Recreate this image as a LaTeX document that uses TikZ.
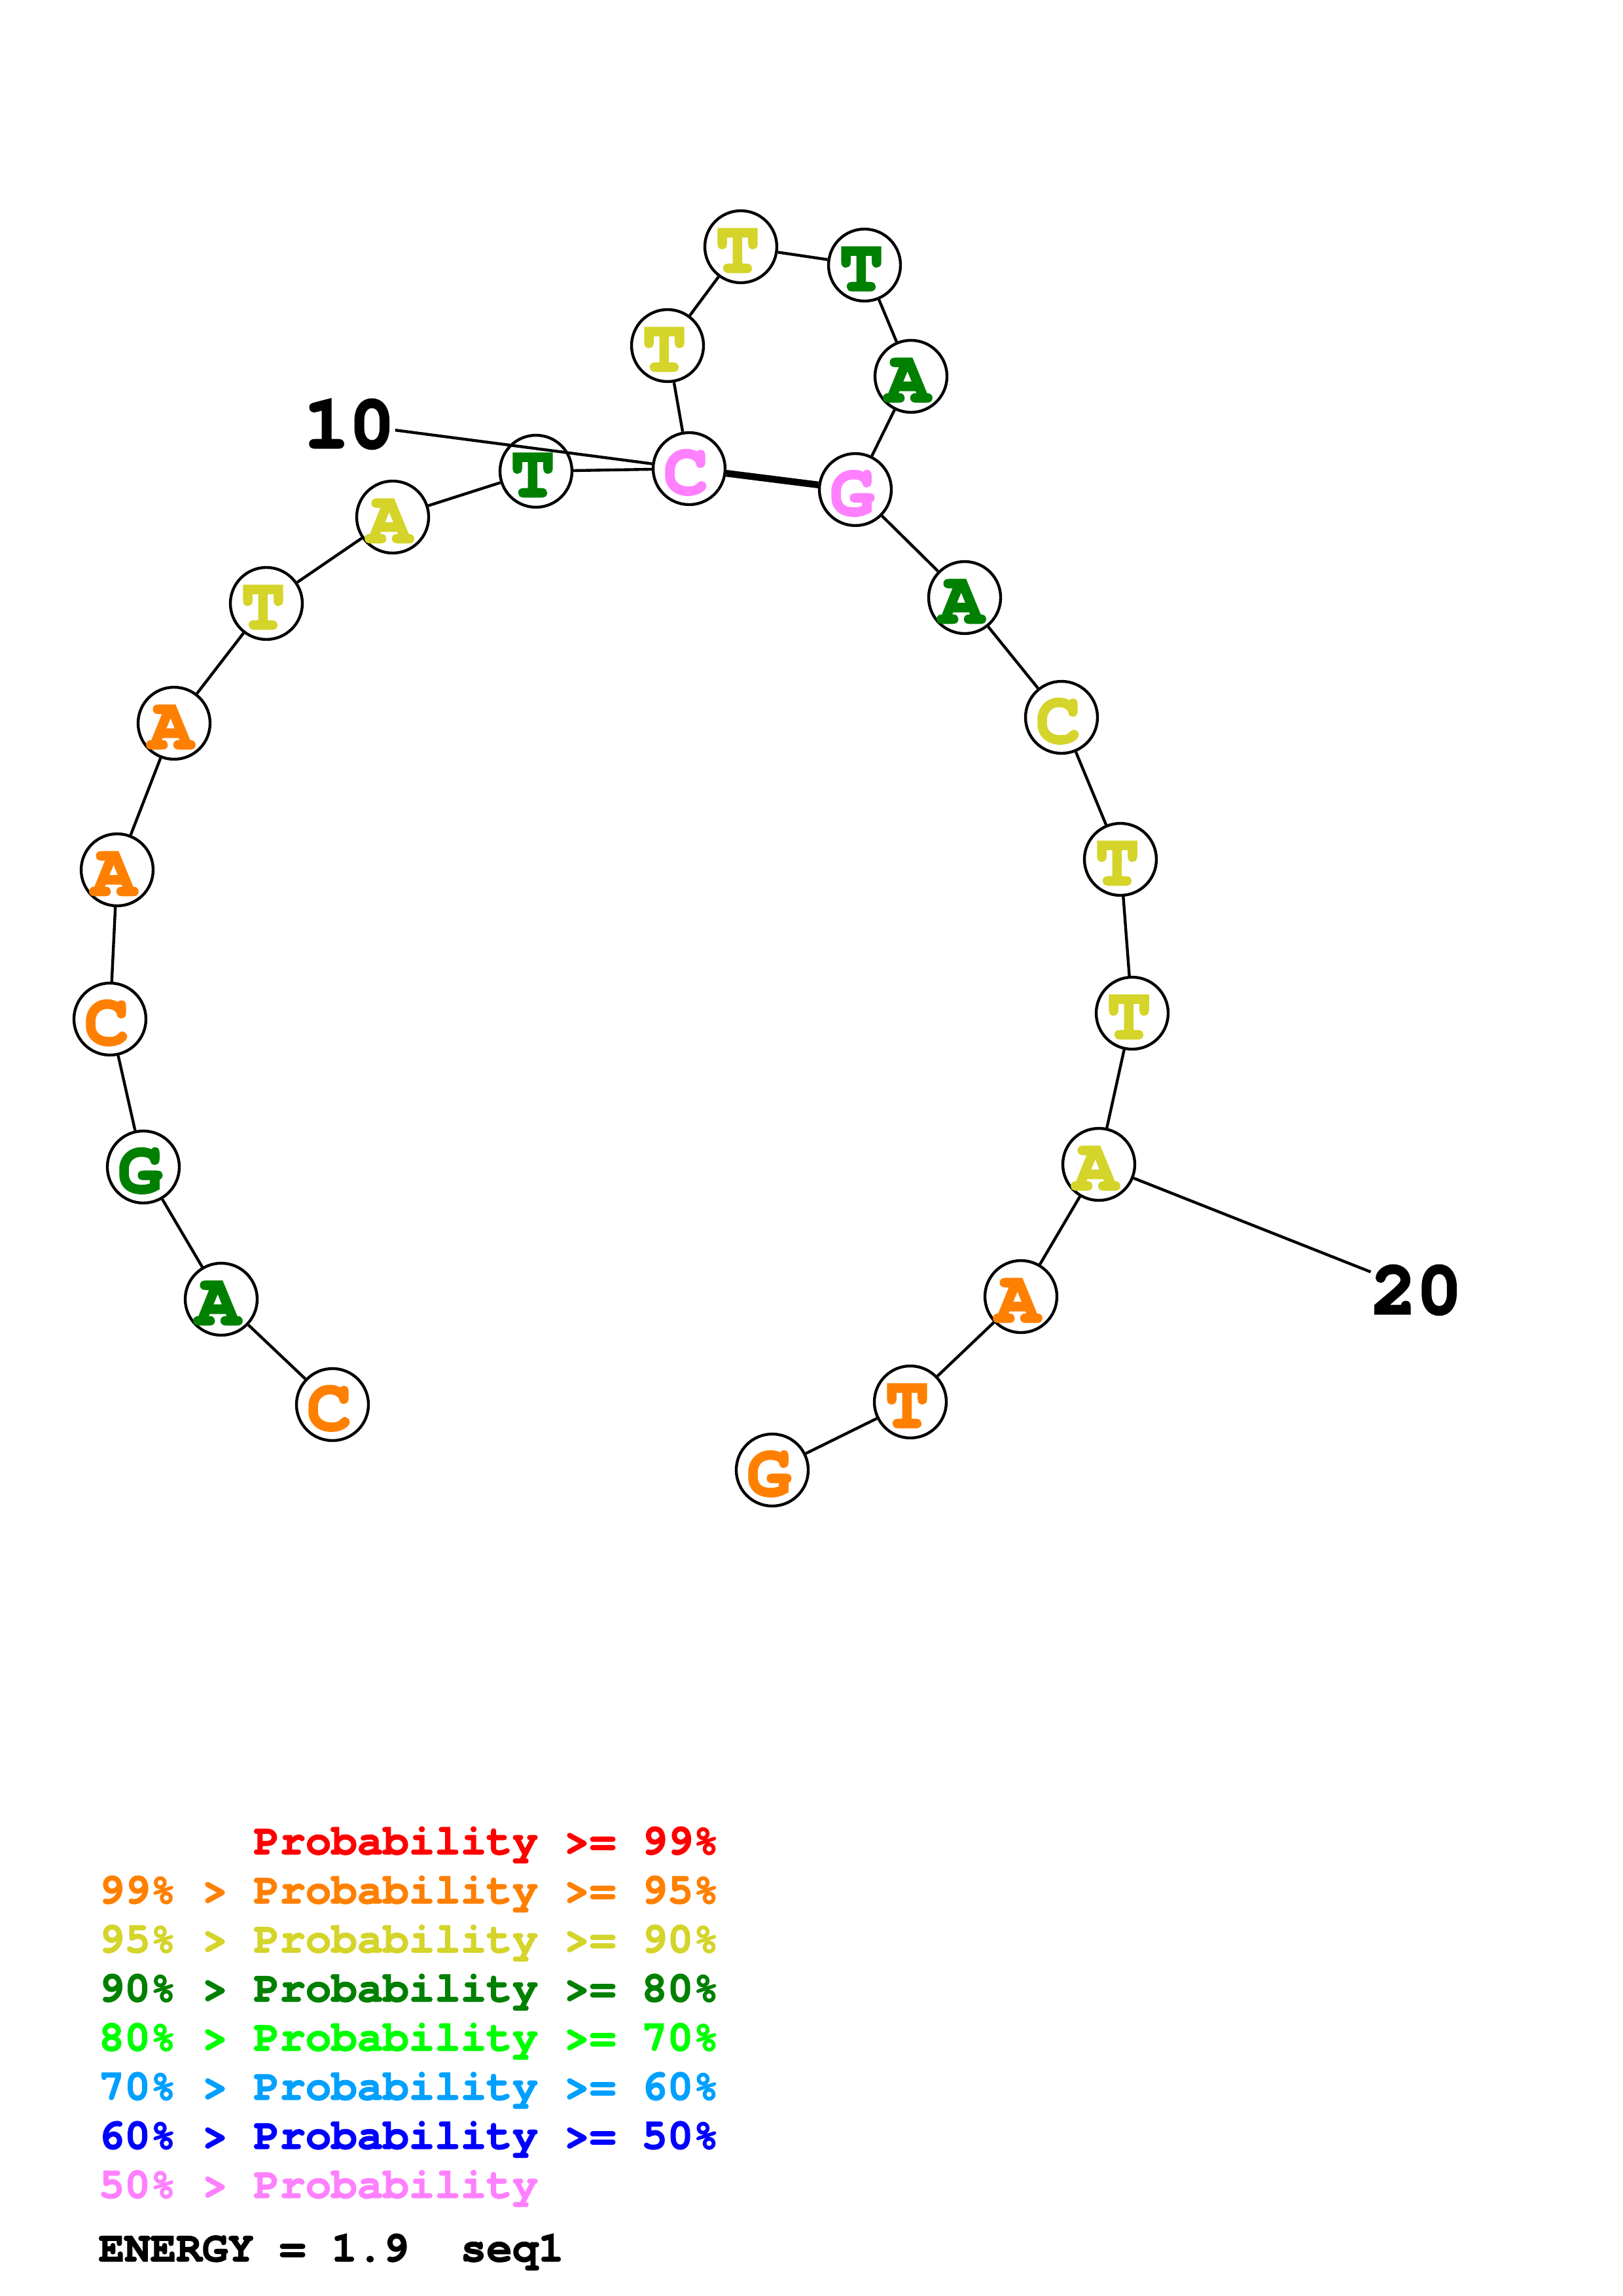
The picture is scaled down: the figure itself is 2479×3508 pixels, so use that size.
\documentclass[tikz,border=0pt]{standalone}
\usepackage{fontspec}
\newfontfamily\nodefont{texgyrecursor-bold.otf}[FakeBold=3]
\newfontfamily\labfont{texgyrecursor-bold.otf}[FakeBold=3]
\newfontfamily\legfont{texgyrecursor-bold.otf}[FakeBold=2]
\definecolor{cRed}{RGB}{255,0,0}
\definecolor{cOr}{RGB}{255,128,0}
\definecolor{cYe}{RGB}{212,212,42}
\definecolor{cGr}{RGB}{0,128,0}
\definecolor{cLg}{RGB}{0,255,0}
\definecolor{cLb}{RGB}{0,160,255}
\definecolor{cBl}{RGB}{0,0,255}
\definecolor{cPk}{RGB}{255,128,255}
\newcommand\nucl[1]{\kern-1.2pt\vphantom{#1}\smash{\raisebox{-1.4pt}{#1}}\kern1.2pt}
\tikzset{
  base/.style={circle,draw=black,fill=white,line width=1.05pt,minimum size=26.4pt,inner sep=0pt,
    font=\nodefont\fontsize{27}{27}\selectfont},
  bb/.style={line width=1.05pt},
  pairline/.style={line width=2.5pt},
  numlab/.style={inner sep=0pt,font=\labfont\fontsize{27.7}{28}\selectfont},
  legend/.style={anchor=base west,inner sep=0pt,font=\legfont\fontsize{15.8}{18}\selectfont}
}
\begin{document}
\begin{tikzpicture}[x=0.24pt,y=-0.24pt]
\fill[white] (0,0) rectangle (2479,3508);
\useasboundingbox (0,0) rectangle (2479,3508);
% nucleotides
\foreach \i/\x/\y/\c/\l in {
 1/508/2146/cOr/C, 2/338/1985/cGr/A, 3/219/1783/cGr/G, 4/168/1557/cOr/C,
 5/179/1329/cOr/A, 6/266/1105/cOr/A, 7/407/922/cYe/T, 8/600/790/cYe/A,
 9/819/720/cGr/T, 10/1053/716/cPk/C, 11/1020/528/cYe/T, 12/1132/377/cYe/T,
 13/1321/405/cGr/T, 14/1392/575/cGr/A, 15/1307/748/cPk/G, 16/1474/913/cGr/A,
 17/1622/1096/cYe/C, 18/1712/1313/cYe/T, 19/1730/1548/cYe/T, 20/1679/1779/cYe/A,
 21/1560/1981/cOr/A, 22/1391/2142/cOr/T, 23/1180/2246/cOr/G}
 {\node[base,text=\c] (n\i) at (\x,\y) {\nucl{\l}};}
% backbone
\foreach \a/\b in {1/2,2/3,3/4,4/5,5/6,6/7,7/8,8/9,9/10,10/11,11/12,12/13,13/14,14/15,
 15/16,16/17,17/18,18/19,19/20,20/21,21/22,22/23}
 {\draw[bb] (n\a) -- (n\b);}
% base pair
\draw[pairline] (n10) -- (n15);
% position labels
\node[numlab] (lab10) at (533.7,648) {10};
\node[numlab] (lab20) at (2164.5,1971) {20};
\draw[bb] (lab10) -- (n10);
\draw[bb] (n20) -- (lab20);
% legend
\node[legend,text=cRed] (l1) at (150,2833) {\hphantom{99\% > }Probability >= 99\%};
\node[legend,text=cOr]  (l2) at (150,2908) {99\% > Probability >= 95\%};
\node[legend,text=cYe]  (l3) at (150,2983) {95\% > Probability >= 90\%};
\node[legend,text=cGr]  (l4) at (150,3058) {90\% > Probability >= 80\%};
\node[legend,text=cLg]  (l5) at (150,3133) {80\% > Probability >= 70\%};
\node[legend,text=cLb]  (l6) at (150,3208) {70\% > Probability >= 60\%};
\node[legend,text=cBl]  (l7) at (150,3283) {60\% > Probability >= 50\%};
\node[legend,text=cPk]  (l8) at (150,3358) {50\% > Probability};
\node[legend,text=black] (energy) at (150,3455) {ENERGY = 1.9~~seq1};
\end{tikzpicture}
\end{document}
